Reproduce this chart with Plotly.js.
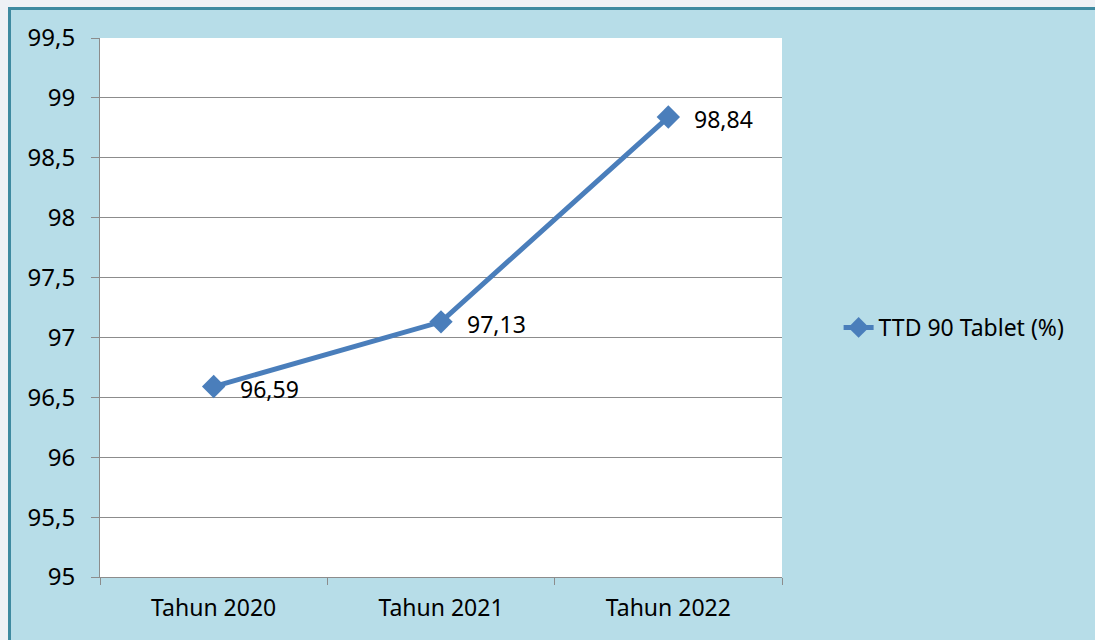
<!DOCTYPE html>
<html>
<head>
<meta charset="utf-8">
<script src="https://cdn.plot.ly/plotly-3.0.1.min.js"></script>
<style>
  html, body { margin: 0; padding: 0; background: #eef1f5; overflow: hidden; }
  #frame {
    position: absolute; left: 8px; top: 7px;
    width: 1087px; height: 633px;
    border-top: 3px solid #3e8aa0; border-left: 3px solid #3e8aa0;
    box-sizing: border-box; background: #b7dde8;
  }
  #chart { width: 1084px; height: 630px; }
</style>
</head>
<body>
<div id="frame"><div id="chart"></div></div>
<script>
// categories and values
var years = ['Tahun 2020', 'Tahun 2021', 'Tahun 2022'];
var ttd90 = [96.59, 97.13, 98.84];
var ttd90Labels = ['96,59', '97,13', '98,84'];

var blue = '#4a7ebb';
var font = {family: 'Noto Sans, sans-serif', size: 24, color: '#000'};
var xFont = {family: 'Noto Sans, sans-serif', size: 23, color: '#000'};

var trace = {
  x: years,
  y: ttd90,
  name: 'TTD 90 Tablet (%)',
  type: 'scatter',
  mode: 'lines+markers',
  line: {color: blue, width: 5},
  marker: {symbol: 'diamond', size: 18, color: blue}
};

// data labels to the right of each point
var labels = years.map(function (yr, i) {
  return {
    x: yr, y: ttd90[i], text: ttd90Labels[i],
    xref: 'x', yref: 'y', showarrow: false,
    xanchor: 'left', yanchor: 'middle',
    xshift: 24, yshift: -2,
    font: xFont
  };
});

var layout = {
  width: 1084,
  height: 630,
  margin: {l: 89, r: 313, t: 28, b: 63},
  paper_bgcolor: '#b7dde8',
  plot_bgcolor: '#ffffff',
  separators: ',.',
  font: font,
  showlegend: true,
  legend: {
    x: 1.083, y: 0.463, xanchor: 'left', yanchor: 'middle',
    bgcolor: 'rgba(0,0,0,0)', font: xFont
  },
  xaxis: {
    type: 'category',
    range: [-0.5, 2.5],
    showgrid: false,
    showline: true, linecolor: '#8c8c8c', linewidth: 1,
    ticks: 'outside', tickson: 'boundaries', ticklen: 7,
    tickcolor: '#8c8c8c',
    ticklabelstandoff: 10,
    tickfont: xFont,
    fixedrange: true
  },
  yaxis: {
    range: [95, 99.5],
    dtick: 0.5,
    showgrid: true, gridcolor: '#8c8c8c', gridwidth: 1,
    showline: true, linecolor: '#8c8c8c', linewidth: 1,
    ticks: 'outside', ticklen: 8, tickcolor: '#8c8c8c',
    ticklabelstandoff: 11,
    zeroline: false,
    tickfont: font,
    fixedrange: true
  },
  annotations: labels
};

Plotly.newPlot('chart', [trace], layout, {displayModeBar: false, staticPlot: true});
</script>
</body>
</html>
